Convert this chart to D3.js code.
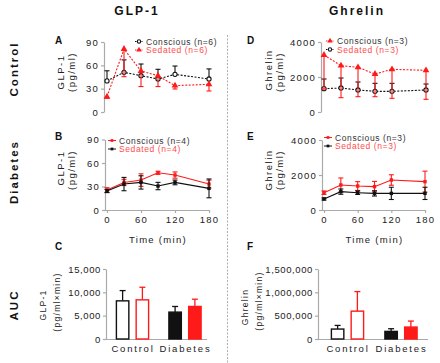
<!DOCTYPE html>
<html>
<head>
<meta charset="utf-8">
<script src="https://cdn.jsdelivr.net/npm/d3@7"></script>
<style>
  body { margin: 0; background: #fff; }
  svg { font-family: 'Liberation Sans', Arial, sans-serif; }
  .axis path, .axis line { stroke: #aaa; stroke-width: 1.2; }
  .axis text { fill: #222; }
</style>
</head>
<body>
<svg id="chart"></svg>
<script>
// time points (min)
var timePoints = [0, 30, 60, 90, 120, 180];
var timeTicks = [0, 60, 120, 180];
var glpTicks = [0, 30, 60, 90];
var ghrTicks = [0, 2000, 4000];
var aucGlpTicks = [0, 5000, 10000, 15000];
var aucGhrTicks = [0, 500000, 1000000, 1500000];
var groups = ['Control', 'Diabetes'];

// A: control GLP-1
var ctrlGlpConscious = [40, 51, 46.7, 42.4, 48.4, 42.4];
var ctrlGlpConsciousErr = [13, 16, 15, 12.5, 10.7, 13];
var ctrlGlpSedated = [19.7, 81, 52.7, 46.7, 33.9, 35.6];
var ctrlGlpSedatedErr = [2, 35.6, 20, 14, 4.3, 8.6];

// B: diabetes GLP-1
var diabGlpConscious = [25.5, 35.2, 38.2, 47.5, 44.6, 33.1];
var diabGlpConsciousErr = [3, 4, 8, 2, 4, 5];
var diabGlpSedated = [24.2, 33.1, 35.2, 30.6, 35.2, 27.6];
var diabGlpSedatedErr = [2, 8.5, 8.5, 4.7, 3, 12];

// D: control ghrelin
var ctrlGhrConscious = [3257, 2648, 2552, 2171, 2438, 2381];
var ctrlGhrConsciousErr = [1950, 1830, 1676, 1295, 1657, 1657];
var ctrlGhrSedated = [1333, 1371, 1257, 1181, 1181, 1257];
var ctrlGhrSedatedErr = [553, 572, 457, 457, 457, 343];

// E: diabetes ghrelin
var diabGhrConscious = [990, 1430, 1370, 1333, 1714, 1620];
var diabGhrConsciousErr = [100, 400, 250, 300, 300, 600];
var diabGhrSedated = [630, 1050, 990, 950, 950, 950];
var diabGhrSedatedErr = [60, 150, 100, 150, 350, 350];

// C, F: AUC (Control, Diabetes)
var aucGlpConscious = [8175, 5760];
var aucGlpConsciousErr = [2200, 1210];
var aucGlpSedated = [8390, 6970];
var aucGlpSedatedErr = [2700, 1560];
var aucGhrConscious = [213000, 163000];
var aucGhrConsciousErr = [78000, 57000];
var aucGhrSedated = [597000, 256000];
var aucGhrSedatedErr = [419000, 128000];

var RED = '#ff1a1a';
var RED_TEXT = '#ff4d4d';
var BLACK = '#111';

var svg = d3.select('#chart').attr('width', 440).attr('height', 363);

var marker = (g, type, color, cx, cy, k) => {
  k = k || 1;
  if (type === 'circle') {
    g.append('circle').attr('cx', cx).attr('cy', cy).attr('r', 2.1 * k)
      .attr('fill', '#fff').attr('stroke', color).attr('stroke-width', 1.1);
  } else if (type === 'triangle') {
    g.append('path').attr('d', d3.symbol(d3.symbolTriangle, 20 * k * k)())
      .attr('transform', `translate(${ cx }, ${ cy })`).attr('fill', color);
  } else {
    g.append('rect').attr('x', cx - 1.7 * k).attr('y', cy - 1.7 * k)
      .attr('width', 3.4 * k).attr('height', 3.4 * k).attr('fill', color);
  }
};

var yLabel = (lines, x, cy, size, spacing) => {
  lines.forEach((t, i) => {
    svg.append('text')
      .attr('transform', `translate(${ x[i] }, ${ cy[i] }) rotate(-90)`)
      .attr('text-anchor', 'middle')
      .attr('font-size', size).attr('letter-spacing', spacing).attr('fill', '#222')
      .text(t);
  });
};

var styleTicks = (sel, size, spacing) => {
  sel.selectAll('text').style('font-size', size).style('letter-spacing', spacing);
};

var linePanel = (cfg) => {
  var x = d3.scaleLinear().domain([0, 180]).range(cfg.xRange);
  var y = d3.scaleLinear().domain([0, cfg.yMax]).range(cfg.yRange);

  svg.append('g').attr('class', 'axis')
    .attr('transform', `translate(${ cfg.axisX }, 0)`)
    .call(d3.axisLeft(y).tickValues(cfg.ticks).tickSize(3).tickPadding(2).tickSizeOuter(0)
      .tickFormat(d3.format('d')))
    .call(g => styleTicks(g, '9.5px', '1.2px'));

  if (cfg.xAxis) {
    svg.append('g').attr('class', 'axis')
      .attr('transform', `translate(0, ${ cfg.yRange[0] })`)
      .call(d3.axisBottom(x).tickValues(timeTicks).tickSize(3).tickPadding(3).tickSizeOuter(0))
      .call(g => g.select('.domain').attr('d', `M${ cfg.axisX },0.5H${ cfg.xRange[1] + 1 }`))
      .call(g => styleTicks(g, '9.5px', '1.2px'));
    svg.append('text')
      .attr('x', (cfg.xRange[0] + cfg.xRange[1]) / 2).attr('y', cfg.yRange[0] + 33)
      .attr('text-anchor', 'middle').attr('font-size', '9.5px').attr('letter-spacing', '1.3px')
      .attr('fill', '#222').text('Time (min)');
  }

  cfg.series.forEach(s => {
    var g = svg.append('g');
    var pts = timePoints.map((t, i) => ({ t, v: s.values[i], e: s.err[i] }));
    g.append('path').datum(pts)
      .attr('fill', 'none').attr('stroke', s.color).attr('stroke-width', 1.1)
      .attr('stroke-dasharray', cfg.dashed ? '2,1.5' : null)
      .attr('d', d3.line().x(d => x(d.t)).y(d => y(d.v)));
    pts.forEach(d => {
      var lo = s.dir === 'up' ? d.v : d.v - d.e;
      var hi = s.dir === 'down' ? d.v : d.v + d.e;
      g.append('line').attr('x1', x(d.t)).attr('x2', x(d.t))
        .attr('y1', y(lo)).attr('y2', y(hi)).attr('stroke', s.color).attr('stroke-width', 1.1);
      [lo, hi].forEach(v => {
        if (v === d.v) return;
        g.append('line').attr('x1', x(d.t) - 2.5).attr('x2', x(d.t) + 2.5)
          .attr('y1', y(v)).attr('y2', y(v)).attr('stroke', s.color).attr('stroke-width', 1.1);
      });
    });
    pts.forEach(d => marker(g, s.marker, s.color, x(d.t), y(d.v)));
  });

  // legend
  cfg.legend.forEach((l, i) => {
    var ly = cfg.legendY + i * 8.5;
    var g = svg.append('g');
    g.append('line').attr('x1', cfg.legendX - 4).attr('x2', cfg.legendX + 4)
      .attr('y1', ly).attr('y2', ly).attr('stroke', l.color).attr('stroke-width', 1)
      .attr('stroke-dasharray', cfg.dashed ? '1.5,1' : null);
    marker(g, l.marker, l.color, cfg.legendX, ly, 0.8);
    g.append('text').attr('x', cfg.legendX + 7).attr('y', ly + 3)
      .attr('font-size', '8.5px').attr('letter-spacing', '0.6px').attr('fill', l.textColor)
      .text(l.label);
  });
};

var barPanel = (cfg) => {
  var gx = d3.scalePoint().domain(groups).range(cfg.centers);
  var inner = d3.scaleBand().domain(['conscious', 'sedated']).range([-16.8, 16.8]).paddingInner(0.3);
  var y = d3.scaleLinear().domain([0, cfg.yMax]).range([339, 269]);

  svg.append('g').attr('class', 'axis')
    .attr('transform', `translate(${ cfg.axisX }, 0)`)
    .call(d3.axisLeft(y).tickValues(cfg.ticks).tickSize(3).tickPadding(2).tickSizeOuter(0)
      .tickFormat(d3.format(',')))
    .call(g => styleTicks(g, '9.5px', '0.6px'));

  svg.append('g').attr('class', 'axis')
    .attr('transform', 'translate(0, 339)')
    .call(d3.axisBottom(gx).tickSize(0).tickPadding(6))
    .call(g => g.select('.domain').attr('d', `M${ cfg.axisX },0.5H${ cfg.axisEnd }`))
    .call(g => styleTicks(g, '9.5px', '1.8px'));

  var data = [];
  groups.forEach((grp, gi) => {
    data.push({ grp, s: 'conscious', v: cfg.conscious[gi], e: cfg.consciousErr[gi],
      stroke: BLACK, fill: gi === 0 ? '#fff' : BLACK });
    data.push({ grp, s: 'sedated', v: cfg.sedated[gi], e: cfg.sedatedErr[gi],
      stroke: RED, fill: gi === 0 ? '#fff' : RED });
  });

  var cx = d => gx(d.grp) + inner(d.s) + inner.bandwidth() / 2;
  var bar = svg.selectAll(null).data(data).enter().append('g');
  bar.append('line')
    .attr('x1', cx).attr('x2', cx)
    .attr('y1', d => y(d.v)).attr('y2', d => y(d.v + d.e))
    .attr('stroke', d => d.stroke).attr('stroke-width', 1.3);
  bar.append('line')
    .attr('x1', d => cx(d) - 3).attr('x2', d => cx(d) + 3)
    .attr('y1', d => y(d.v + d.e)).attr('y2', d => y(d.v + d.e))
    .attr('stroke', d => d.stroke).attr('stroke-width', 1.3);
  bar.append('rect')
    .attr('x', d => gx(d.grp) + inner(d.s) + 0.7)
    .attr('y', d => y(d.v))
    .attr('width', inner.bandwidth() - 1.4)
    .attr('height', d => y(0) - y(d.v))
    .attr('fill', d => d.fill).attr('stroke', d => d.stroke).attr('stroke-width', 1.4);
};

/**
 * titles and row labels
 */
[['GLP-1', 137], ['Ghrelin', 357]].forEach(t => {
  svg.append('text').attr('x', t[1]).attr('y', 15).attr('text-anchor', 'middle')
    .attr('font-size', '12px').attr('font-weight', 'bold').attr('letter-spacing', '2px')
    .attr('fill', '#111').text(t[0]);
});
[['Control', 69], ['Diabetes', 172], ['AUC', 305]].forEach(t => {
  svg.append('text').attr('transform', `translate(18, ${ t[1] }) rotate(-90)`)
    .attr('text-anchor', 'middle')
    .attr('font-size', '11.5px').attr('font-weight', 'bold').attr('letter-spacing', '2px')
    .attr('fill', '#111').text(t[0]);
});
[['A', 55, 44], ['B', 55, 140], ['C', 55, 250], ['D', 247, 44], ['E', 247, 140], ['F', 247, 250]].forEach(t => {
  svg.append('text').attr('x', t[1]).attr('y', t[2])
    .attr('font-size', '10px').attr('font-weight', 'bold').attr('fill', '#111').text(t[0]);
});

svg.append('line').attr('x1', 227.5).attr('x2', 227.5).attr('y1', 35).attr('y2', 363)
  .attr('stroke', '#999').attr('stroke-width', 0.8).attr('stroke-dasharray', '2,1.5');

/**
 * panels
 */
linePanel({
  xRange: [107, 209], yRange: [112, 42], yMax: 90, axisX: 104, ticks: glpTicks, dashed: true,
  series: [
    { values: ctrlGlpConscious, err: ctrlGlpConsciousErr, dir: 'up', color: BLACK, marker: 'circle' },
    { values: ctrlGlpSedated, err: ctrlGlpSedatedErr, dir: 'down', color: RED, marker: 'triangle' }
  ],
  legendX: 139, legendY: 41.5,
  legend: [
    { label: 'Conscious (n=6)', color: BLACK, marker: 'circle', textColor: '#333' },
    { label: 'Sedated (n=6)', color: RED, marker: 'triangle', textColor: RED_TEXT }
  ]
});
linePanel({
  xRange: [107, 209], yRange: [210, 139.5], yMax: 90, axisX: 105, ticks: glpTicks, xAxis: true,
  series: [
    { values: diabGlpConscious, err: diabGlpConsciousErr, dir: 'both', color: RED, marker: 'square' },
    { values: diabGlpSedated, err: diabGlpSedatedErr, dir: 'both', color: BLACK, marker: 'square' }
  ],
  legendX: 112, legendY: 140.5,
  legend: [
    { label: 'Conscious (n=4)', color: RED, marker: 'square', textColor: '#333' },
    { label: 'Sedated (n=4)', color: BLACK, marker: 'square', textColor: RED_TEXT }
  ]
});
linePanel({
  xRange: [324, 426], yRange: [112, 42], yMax: 4000, axisX: 321, ticks: ghrTicks, dashed: true,
  series: [
    { values: ctrlGhrSedated, err: ctrlGhrSedatedErr, dir: 'up', color: BLACK, marker: 'circle' },
    { values: ctrlGhrConscious, err: ctrlGhrConsciousErr, dir: 'down', color: RED, marker: 'triangle' }
  ],
  legendX: 330, legendY: 41,
  legend: [
    { label: 'Conscious (n=3)', color: RED, marker: 'triangle', textColor: '#333' },
    { label: 'Sedated (n=3)', color: BLACK, marker: 'circle', textColor: RED_TEXT }
  ]
});
linePanel({
  xRange: [324, 425], yRange: [210, 140], yMax: 4000, axisX: 322, ticks: ghrTicks, xAxis: true,
  series: [
    { values: diabGhrConscious, err: diabGhrConsciousErr, dir: 'both', color: RED, marker: 'square' },
    { values: diabGhrSedated, err: diabGhrSedatedErr, dir: 'both', color: BLACK, marker: 'square' }
  ],
  legendX: 328, legendY: 137.5,
  legend: [
    { label: 'Conscious (n=3)', color: RED, marker: 'square', textColor: '#333' },
    { label: 'Sedated (n=3)', color: BLACK, marker: 'square', textColor: RED_TEXT }
  ]
});

barPanel({
  centers: [132.5, 185], axisX: 106, axisEnd: 207, yMax: 15000, ticks: aucGlpTicks,
  conscious: aucGlpConscious, consciousErr: aucGlpConsciousErr,
  sedated: aucGlpSedated, sedatedErr: aucGlpSedatedErr
});
barPanel({
  centers: [347.5, 401], axisX: 318, axisEnd: 428, yMax: 1500000, ticks: aucGhrTicks,
  conscious: aucGhrConscious, consciousErr: aucGhrConsciousErr,
  sedated: aucGhrSedated, sedatedErr: aucGhrSedatedErr
});

/**
 * y axis titles
 */
yLabel(['GLP-1', '(pg/ml)'], [64, 75], [72, 72], '9.5px', '1.5px');
yLabel(['GLP-1', '(pg/ml)'], [64, 75], [168, 170], '9.5px', '1.5px');
yLabel(['Ghrelin', '(pg/ml)'], [272, 283], [70, 72], '9.5px', '1.5px');
yLabel(['Ghrelin', '(pg/ml)'], [272, 283], [170, 170], '9.5px', '1.5px');
yLabel(['GLP-1', '(pg/ml\u00d7min)'], [46, 60], [305, 302], '8.5px', '1.3px');
yLabel(['Ghrelin', '(pg/ml\u00d7min)'], [248, 262], [307, 301], '8.5px', '1.3px');
</script>
</body>
</html>
